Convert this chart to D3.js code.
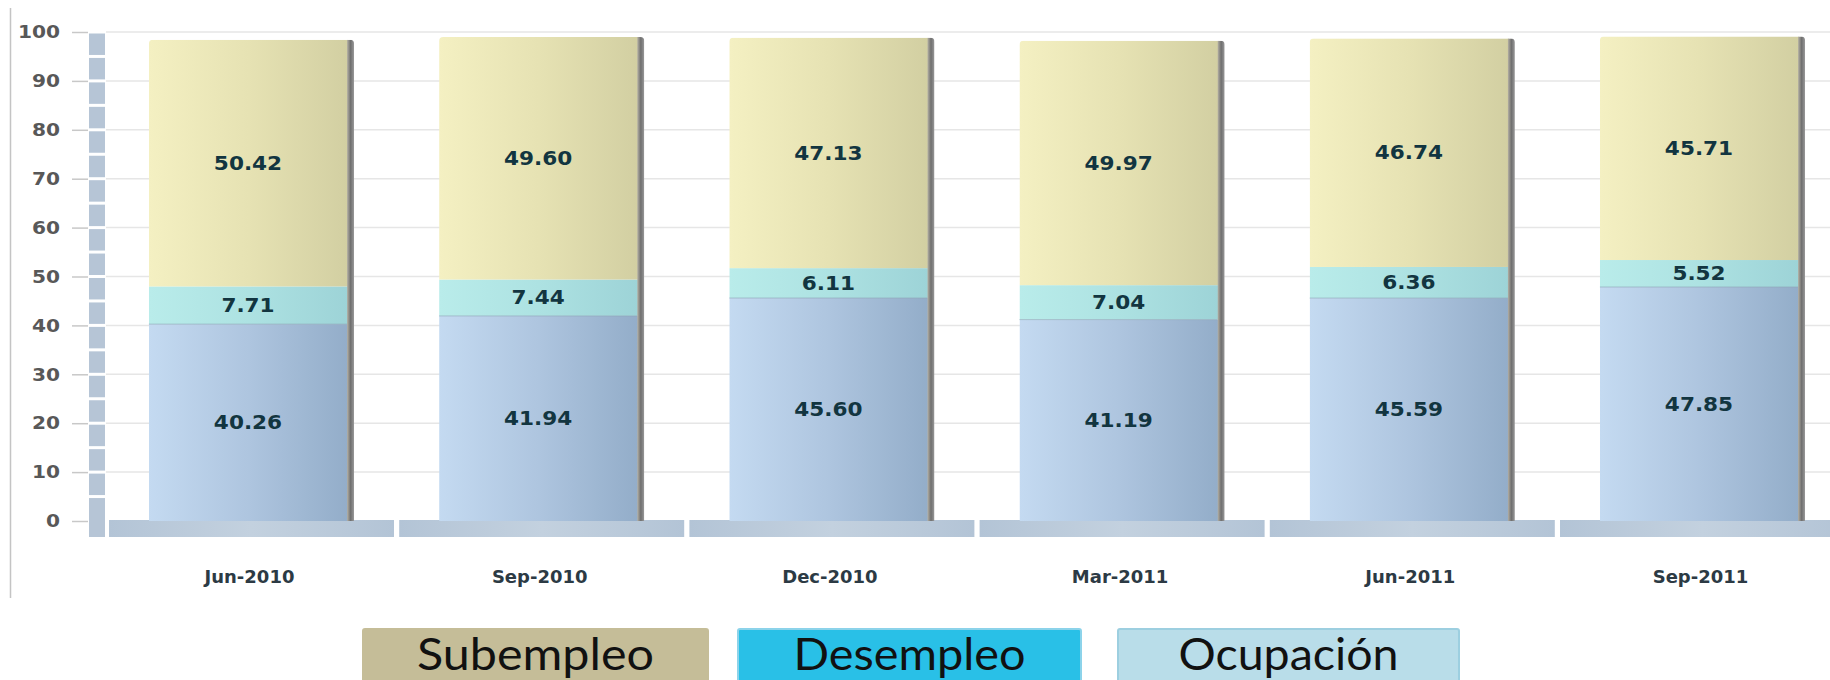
<!DOCTYPE html>
<html><head><meta charset="utf-8">
<script src="https://cdn.jsdelivr.net/npm/d3@7"></script>
<style>body{margin:0;background:#fff;overflow:hidden}</style>
</head><body><svg id="c" width="1830" height="680"></svg>
<script>
const categories = ["Jun-2010","Sep-2010","Dec-2010","Mar-2011","Jun-2011","Sep-2011"];
const ocupacion = [40.26, 41.94, 45.60, 41.19, 45.59, 47.85];
const desempleo = [7.71, 7.44, 6.11, 7.04, 6.36, 5.52];
const subempleo = [50.42, 49.60, 47.13, 49.97, 46.74, 45.71];
const yTicks = [0,10,20,30,40,50,60,70,80,90,100];
const seriesKeys = ["ocupacion","desempleo","subempleo"];
const legendLabels = ["Subempleo","Desempleo","Ocupación"];

const svg = d3.select("#c");
const defs = svg.append("defs");
const grads = {
  subempleo: ["#f4f0c2","#e6e2b3","#d2cfa2"],
  desempleo: ["#b9ecea","#ade2e2","#9dd3d7"],
  ocupacion: ["#c4daf1","#aec5df","#93adc9"]
};
Object.entries(grads).forEach(([k,c])=>{
  const g = defs.append("linearGradient").attr("id","g-"+k).attr("x1",0).attr("x2",1).attr("y1",0).attr("y2",0);
  c.forEach((col,i)=>g.append("stop").attr("offset",i/(c.length-1)).attr("stop-color",col));
});
const sh = defs.append("linearGradient").attr("id","g-shadow").attr("x1",0).attr("x2",1);
sh.append("stop").attr("offset",0).attr("stop-color","#b4b0a4");
sh.append("stop").attr("offset",0.5).attr("stop-color","#6f6f6f");
sh.append("stop").attr("offset",1).attr("stop-color","#9a9a9a");
const fl = defs.append("linearGradient").attr("id","g-floor").attr("x1",0).attr("x2",1);
fl.append("stop").attr("offset",0).attr("stop-color","#b3c4d6");
fl.append("stop").attr("offset",0.5).attr("stop-color","#c3d1df");
fl.append("stop").attr("offset",1).attr("stop-color","#b3c4d6");

const y = d3.scaleLinear().domain([0,100]).range([521,32]);
const x = d3.scaleBand().domain(categories).range([106.4,1847.6]).paddingInner(0.293).paddingOuter(0.1465);

// left frame line
svg.append("line").attr("x1",10.5).attr("x2",10.5).attr("y1",8).attr("y2",598).attr("stroke","#c4c4c4").attr("stroke-width",1.5);

// gridlines
svg.append("g").selectAll("line").data(yTicks.filter(t=>t>0)).join("line")
  .attr("x1",106).attr("x2",1830).attr("y1",d=>y(d)).attr("y2",d=>y(d))
  .attr("stroke","#e6e6e6").attr("stroke-width",1.5);

// y axis ticks + labels
const ax = svg.append("g").attr("transform","translate(88,0)")
  .call(d3.axisLeft(y).tickValues(yTicks).tickSize(16).tickPadding(13));
ax.select(".domain").remove();
ax.selectAll(".tick line").attr("stroke","#c8c8c8").attr("stroke-width",1.5);
ax.selectAll(".tick text").attr("font-family","DejaVu Sans").attr("font-weight","bold")
  .attr("font-size",18).attr("fill","#585858")
  .attr("transform","scale(1.12,1)").attr("x",-28/1.12);

// wall segments
const wallSteps = d3.range(0,100,5);
svg.append("g").selectAll("rect").data(wallSteps).join("rect")
  .attr("x",89).attr("width",16)
  .attr("y",d=>y(d+5)+1.5)
  .attr("height",d=> d===0 ? 537-(y(d+5)+1.5) : y(d)-y(d+5)-3)
  .attr("fill","#b6c5d6");

// floor bars
svg.append("g").selectAll("rect").data(categories).join("rect")
  .attr("x",d=>x(d)+x.bandwidth()/2-142.5).attr("width",285)
  .attr("y",520).attr("height",17).attr("fill","url(#g-floor)");

// stacked data
const table = categories.map((c,i)=>({cat:c, ocupacion:ocupacion[i], desempleo:desempleo[i], subempleo:subempleo[i]}));
const stack = d3.stack().keys(seriesKeys)(table);

const bw = x.bandwidth();
const shadowW = 7;
const bars = svg.append("g");
table.forEach((d,i)=>{
  const top = stack[2][i][1];
  defs.append("clipPath").attr("id","clip"+i).append("rect")
    .attr("x",x(d.cat)).attr("width",bw).attr("y",y(top)).attr("height",y(0)-y(top)+10)
    .attr("rx",4);
});
stack.forEach(s=>{
  bars.append("g").selectAll("rect").data(s).join("rect")
    .attr("clip-path",(d,i)=>`url(#clip${i})`)
    .attr("x",d=>x(d.data.cat)).attr("width",bw-shadowW+1)
    .attr("y",d=>y(d[1])).attr("height",d=>y(d[0])-y(d[1]))
    .attr("fill","url(#g-"+s.key+")");
});
bars.append("g").selectAll("line").data(stack[0]).join("line")
  .attr("x1",d=>x(d.data.cat)).attr("x2",d=>x(d.data.cat)+bw-shadowW)
  .attr("y1",d=>y(d[1])).attr("y2",d=>y(d[1]))
  .attr("stroke","#8da3b6").attr("stroke-width",1).attr("opacity",0.6);
bars.append("g").selectAll("rect").data(table).join("rect")
  .attr("clip-path",(d,i)=>`url(#clip${i})`)
  .attr("x",d=>x(d.cat)+bw-shadowW).attr("width",shadowW)
  .attr("y",(d,i)=>y(stack[2][i][1])).attr("height",(d,i)=>y(0)-y(stack[2][i][1]))
  .attr("fill","url(#g-shadow)");

// value labels
stack.forEach(s=>{
  svg.append("g").selectAll("text").data(s).join("text")
    .attr("transform",d=>`translate(${x(d.data.cat)+(bw-shadowW)/2},${(y(d[0])+y(d[1]))/2}) scale(1.08,1)`)
    .attr("text-anchor","middle").attr("dominant-baseline","central")
    .attr("font-family","DejaVu Sans").attr("font-weight","bold").attr("font-size",20)
    .attr("fill","#123540")
    .text(d=>(d[1]-d[0]).toFixed(2));
});

// category labels
svg.append("g").selectAll("text").data(categories).join("text")
  .attr("transform",d=>`translate(${x(d)+bw/2-2},583) scale(1.06,1)`)
  .attr("text-anchor","middle")
  .attr("font-family","DejaVu Sans").attr("font-weight","bold").attr("font-size",17)
  .attr("fill","#2c3a44").text(d=>d);

// legend
const legendFill = ["#c5bd98","#29c0e7","#b9dde9"];
const legendStroke = ["#c5bd98","#8cd3ea","#9dcfe0"];
const legendX = [362,737,1117];
const legendW = [347,345,343];
const legendTextW = [237,232,220];
const lg = svg.append("g").selectAll("g").data(legendLabels).join("g");
lg.append("rect").attr("x",(d,i)=>legendX[i]+1).attr("y",629).attr("width",(d,i)=>legendW[i]-2).attr("height",60)
  .attr("fill",(d,i)=>legendFill[i]).attr("stroke",(d,i)=>legendStroke[i]).attr("stroke-width",2).attr("rx",2);
lg.append("text").attr("x",(d,i)=>legendX[i]+legendW[i]/2).attr("y",670)
  .attr("text-anchor","middle").attr("font-family","Lato").attr("font-size",44).attr("fill","#111")
  .attr("textLength",(d,i)=>legendTextW[i]).attr("lengthAdjust","spacingAndGlyphs")
  .text(d=>d);
</script></body></html>
